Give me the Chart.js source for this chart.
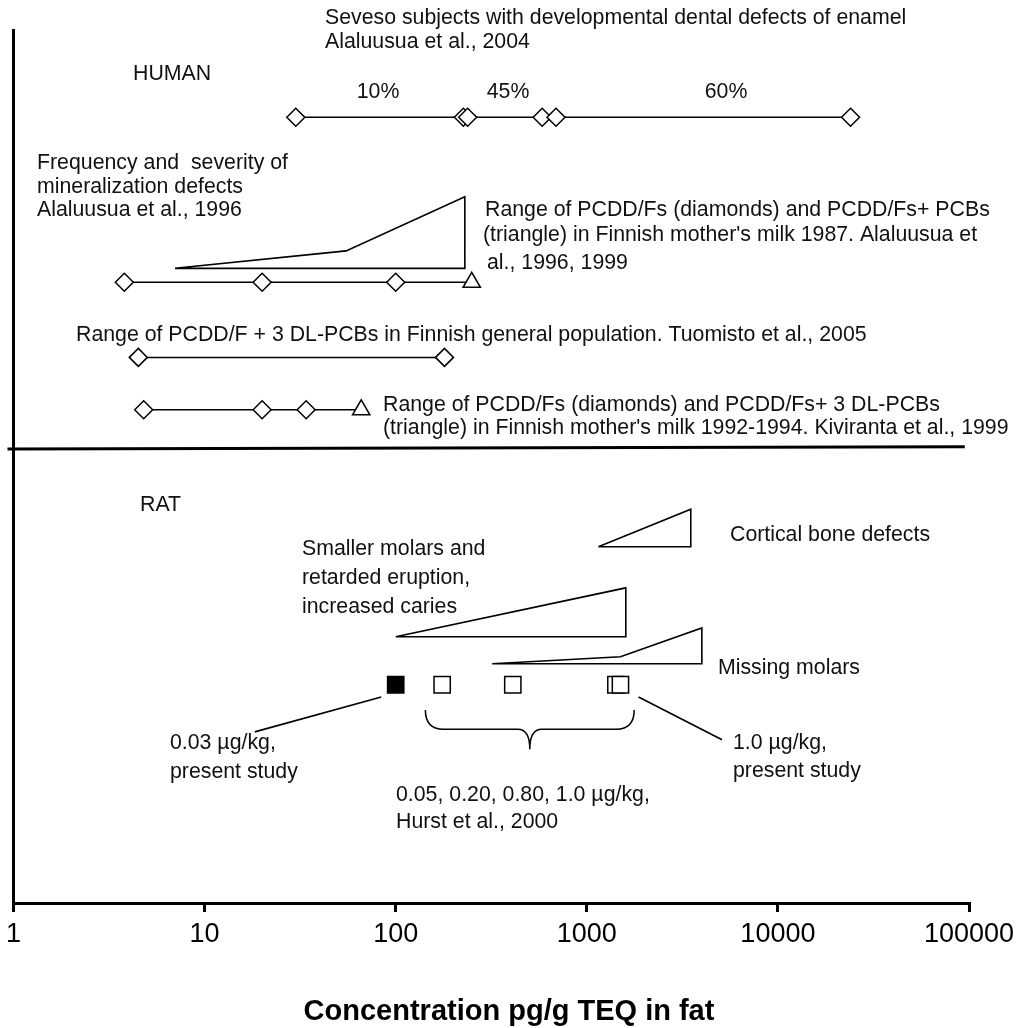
<!DOCTYPE html>
<html>
<head>
<meta charset="utf-8">
<script src="https://cdn.jsdelivr.net/npm/chart.js@4.4.1/dist/chart.umd.min.js"></script>
<style>
  html, body { margin: 0; padding: 0; background: #fff; }
  #wrap { width: 1033px; height: 1028px; }
</style>
</head>
<body>
<div id="wrap"><canvas id="teqChart" width="1033" height="1028"></canvas></div>
<script>
// x axis ticks, pg/g TEQ in fat
const tickValues = [1, 10, 100, 1000, 10000, 100000];

// HUMAN
const sevesoLimits = [30, 226, 238, 584, 690, 24000];   // three exposure groups
const sevesoPercent = ['10%', '45%', '60%'];
const milk1987Pcdd = [3.8, 20, 100];
const milk1987WithPcb = [250];
const mineralWedge = [7, 55, 230];                      // start, bend, end
const generalPop2005 = [4.5, 180];
const milk1992Pcdd = [4.8, 20, 34];
const milk1992WithPcb = [66];

// RAT
const corticalBone = [1150, 3500];
const smallerMolars = [100, 1600];
const missingMolars = [320, 1500, 4000];                // start, bend, end
const presentLow = [100];
const hurst2000 = [175, 410, 1420];
const presentHigh = [1500];

// vertical placement of the rows (0 = x axis, 100 = top of y axis)
const row = {
  seveso: 90.0,
  milk87: 71.1, w87Base: 72.7, w87Bend: 74.7, w87Top: 80.9,
  general: 62.5,
  milk92: 56.5,
  splitLeft: 52.0, splitRight: 52.25,
  cortBase: 40.8, cortTop: 45.1,
  molBase: 30.5, molTop: 36.1,
  missBase: 27.4, missBend: 28.2, missTop: 31.5,
  squares: 25.0,
  braceTop: 22.1, braceMid: 19.9, braceTip: 17.6
};
const splitSpan = [0.93, 95000];
const braceSpan = [143, 1770];
const leaders = [
  [{ x: 84, y: 23.6 }, { x: 18.3, y: 19.6 }],
  [{ x: 1866, y: 23.6 }, { x: 5100, y: 18.7 }]
];

const notes = [
  ['Seveso subjects with developmental dental defects of enamel', 325, 18],
  ['Alaluusua et al., 2004', 325, 42],
  ['HUMAN', 133, 74],
  ['Frequency and  severity of', 37, 163],
  ['mineralization defects', 37, 187],
  ['Alaluusua et al., 1996', 37, 210],
  ['Range of PCDD/Fs (diamonds) and PCDD/Fs+ PCBs', 485, 210],
  ["(triangle) in Finnish mother's milk 1987. Alaluusua et", 483, 235],
  ['al., 1996, 1999', 487, 263],
  ['Range of PCDD/F + 3 DL-PCBs in Finnish general population. Tuomisto et al., 2005', 76, 335],
  ['Range of PCDD/Fs (diamonds) and PCDD/Fs+ 3 DL-PCBs', 383, 405],
  ["(triangle) in Finnish mother's milk 1992-1994. Kiviranta et al., 1999", 383, 428],
  ['RAT', 140, 505],
  ['Cortical bone defects', 730, 535],
  ['Smaller molars and', 302, 549],
  ['retarded eruption,', 302, 578],
  ['increased caries', 302, 607],
  ['Missing molars', 718, 668],
  ['0.03 µg/kg,', 170, 743],
  ['present study', 170, 772],
  ['0.05, 0.20, 0.80, 1.0 µg/kg,', 396, 795],
  ['Hurst et al., 2000', 396, 822],
  ['1.0 µg/kg,', 733, 743],
  ['present study', 733, 771]
];
const percentX = [378, 508, 726];

const FONT = '"Liberation Sans", Arial, sans-serif';
Chart.defaults.font.family = FONT;
Chart.defaults.color = '#000';

function pts(xs, y) {
  return xs.map(x => ({ x: x, y: y }));
}

function rangeRow(xs, y, styles, radii) {
  return {
    data: pts(xs, y),
    showLine: true,
    borderColor: '#000',
    borderWidth: 1.5,
    pointStyle: styles,
    pointRadius: radii,
    pointBackgroundColor: '#fff',
    pointBorderColor: '#000',
    pointBorderWidth: 1.5
  };
}

function outline(points) {
  return {
    data: points,
    showLine: true,
    borderColor: '#000',
    borderWidth: 1.6,
    pointRadius: 0
  };
}

function squares(xs, fill) {
  return {
    data: pts(xs, row.squares),
    showLine: false,
    pointStyle: 'rect',
    pointRadius: 11.5,
    pointBackgroundColor: fill,
    pointBorderColor: '#000',
    pointBorderWidth: 1.5
  };
}

const diamond = n => Array(n).fill('rectRot');

// Chart.js paints the first dataset on top
const datasets = [
  rangeRow(sevesoLimits, row.seveso, 'rectRot', 9),
  rangeRow(milk1987Pcdd.concat(milk1987WithPcb), row.milk87,
    diamond(milk1987Pcdd.length).concat(['triangle']), [9, 9, 9, 10]),
  outline([
    { x: mineralWedge[0], y: row.w87Base },
    { x: mineralWedge[1], y: row.w87Bend },
    { x: mineralWedge[2], y: row.w87Top },
    { x: mineralWedge[2], y: row.w87Base },
    { x: mineralWedge[0], y: row.w87Base }
  ]),
  rangeRow(generalPop2005, row.general, 'rectRot', 9),
  rangeRow(milk1992Pcdd.concat(milk1992WithPcb), row.milk92,
    diamond(milk1992Pcdd.length).concat(['triangle']), [9, 9, 9, 10]),
  {
    data: [{ x: splitSpan[0], y: row.splitLeft }, { x: splitSpan[1], y: row.splitRight }],
    showLine: true, borderColor: '#000', borderWidth: 3, pointRadius: 0
  },
  outline([
    { x: corticalBone[0], y: row.cortBase },
    { x: corticalBone[1], y: row.cortTop },
    { x: corticalBone[1], y: row.cortBase },
    { x: corticalBone[0], y: row.cortBase }
  ]),
  outline([
    { x: smallerMolars[0], y: row.molBase },
    { x: smallerMolars[1], y: row.molTop },
    { x: smallerMolars[1], y: row.molBase },
    { x: smallerMolars[0], y: row.molBase }
  ]),
  outline([
    { x: missingMolars[0], y: row.missBase },
    { x: missingMolars[1], y: row.missBend },
    { x: missingMolars[2], y: row.missTop },
    { x: missingMolars[2], y: row.missBase },
    { x: missingMolars[0], y: row.missBase }
  ]),
  squares(presentLow, '#000'),
  squares(presentHigh, '#fff'),
  squares(hurst2000, '#fff'),
  outline(leaders[0]),
  outline(leaders[1])
];
datasets.forEach(d => { d.clip = false; });

const notesPlugin = {
  id: 'notes',
  afterDatasetsDraw(chart) {
    const ctx = chart.ctx;
    const xs = chart.scales.x, ys = chart.scales.y;

    // curly brace under the Hurst doses
    const x1 = xs.getPixelForValue(braceSpan[0]);
    const x2 = xs.getPixelForValue(braceSpan[1]);
    const xm = xs.getPixelForValue(Math.sqrt(braceSpan[0] * braceSpan[1]));
    const yTop = ys.getPixelForValue(row.braceTop);
    const yMid = ys.getPixelForValue(row.braceMid);
    const yTip = ys.getPixelForValue(row.braceTip);
    ctx.save();
    ctx.strokeStyle = '#000';
    ctx.lineWidth = 1.5;
    ctx.beginPath();
    ctx.moveTo(x1, yTop);
    ctx.quadraticCurveTo(x1, yMid, x1 + 18, yMid);
    ctx.lineTo(xm - 12, yMid);
    ctx.quadraticCurveTo(xm, yMid, xm, yTip);
    ctx.quadraticCurveTo(xm, yMid, xm + 12, yMid);
    ctx.lineTo(x2 - 18, yMid);
    ctx.quadraticCurveTo(x2, yMid, x2, yTop);
    ctx.stroke();

    ctx.fillStyle = '#111';
    ctx.textBaseline = 'middle';
    ctx.font = '21.3px ' + FONT;
    ctx.textAlign = 'left';
    notes.forEach(n => ctx.fillText(n[0], n[1], n[2]));
    ctx.textAlign = 'center';
    sevesoPercent.forEach((p, i) => ctx.fillText(p, percentX[i], 92));

    ctx.font = 'bold 29px ' + FONT;
    ctx.fillStyle = '#000';
    ctx.fillText('Concentration pg/g TEQ in fat', 509, 1012);
    ctx.restore();
  }
};

new Chart(document.getElementById('teqChart'), {
  type: 'scatter',
  data: { datasets: datasets },
  options: {
    responsive: false,
    animation: false,
    devicePixelRatio: 1,
    layout: { padding: { top: 30, right: 64, bottom: 0, left: 0 } },
    plugins: {
      legend: { display: false },
      tooltip: { enabled: false }
    },
    scales: {
      x: {
        type: 'logarithmic',
        min: 1,
        max: 100000,
        afterBuildTicks: function(scale) {
          scale.ticks = tickValues.map(v => ({ value: v }));
        },
        afterFit: function(scale) { scale.height = 125; },
        grid: { display: true, drawOnChartArea: false, drawTicks: true, tickLength: 9, lineWidth: 3, color: '#000' },
        border: { display: true, width: 3, color: '#000' },
        ticks: {
          autoSkip: false,
          maxRotation: 0,
          padding: 6,
          color: '#000',
          font: { size: 27 },
          callback: function(value) { return String(value); }
        }
      },
      y: {
        min: 0,
        max: 100,
        afterFit: function(scale) { scale.width = 11; },
        grid: { display: false, drawTicks: false },
        border: { display: true, width: 3, color: '#000' },
        ticks: { display: false }
      }
    }
  },
  plugins: [notesPlugin]
});
</script>
</body>
</html>
